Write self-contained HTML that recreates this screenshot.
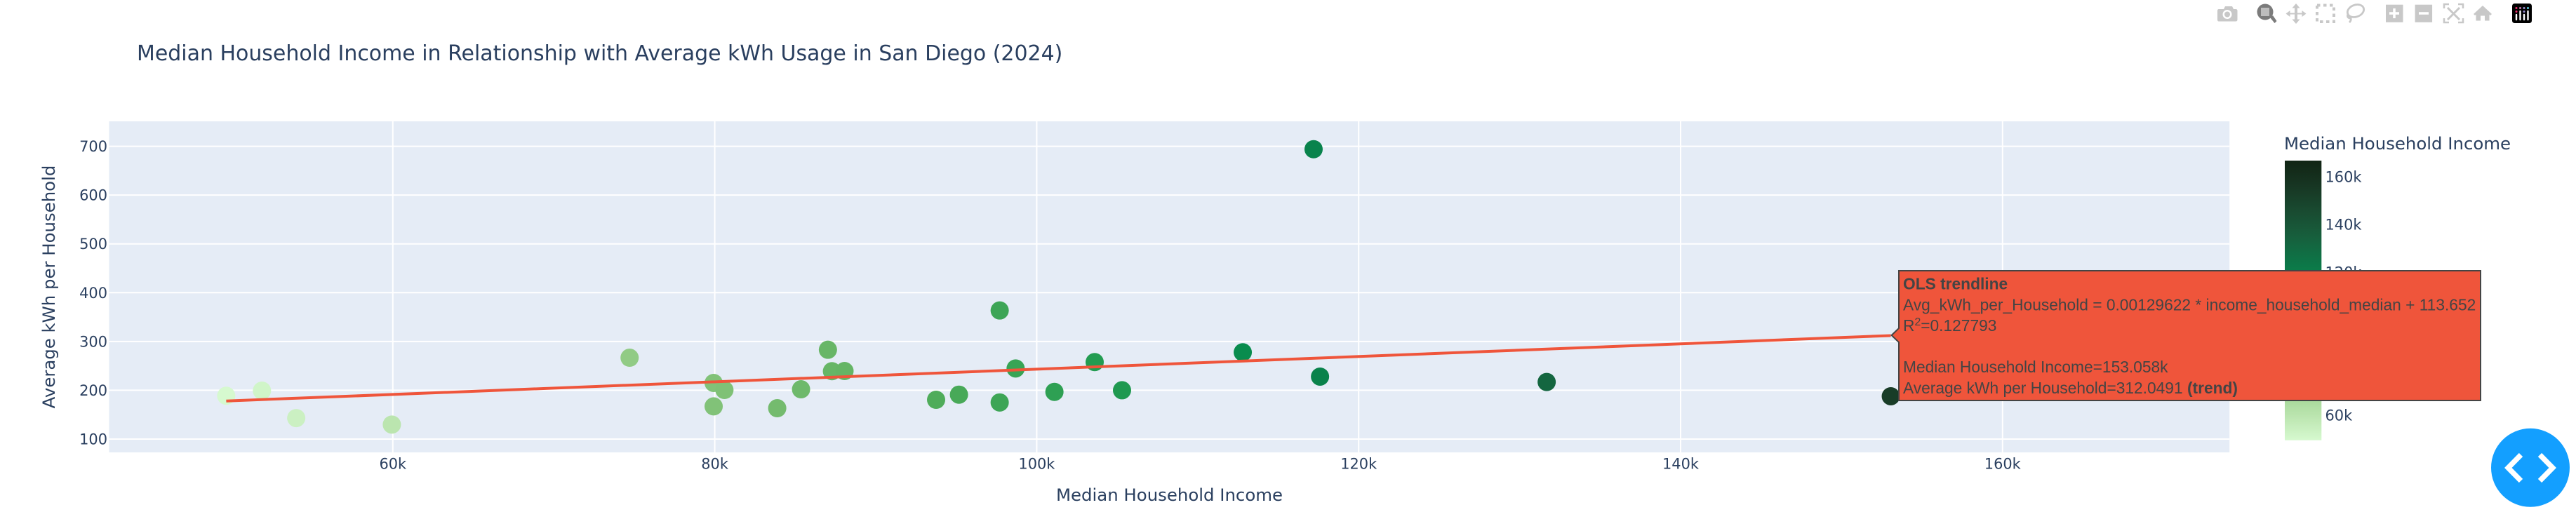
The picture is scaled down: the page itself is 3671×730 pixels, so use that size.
<!DOCTYPE html>
<html lang="en">
<head>
<meta charset="utf-8">
<title>Median Household Income in Relationship with Average kWh Usage in San Diego (2024)</title>
<style>
html,body{margin:0;padding:0;background:#fff;width:3671px;height:730px;overflow:hidden}
svg{display:block}
text{font-family:"DejaVu Sans","Liberation Sans",sans-serif;fill:#2a3f5f}
.tip text{font-family:"Liberation Sans",Arial,sans-serif;fill:#444;font-size:22.75px}
</style>
</head>
<body>
<svg id="chart" xmlns="http://www.w3.org/2000/svg" width="3671" height="730" viewBox="0 0 3671 730">
  <defs>
    <linearGradient id="cbGrad" x1="0" y1="1" x2="0" y2="0"></linearGradient>
  </defs>
  <rect x="155.4" y="173" width="3021.8" height="472" fill="#e5ecf6"/>
  <g id="grid"></g>
  <g id="points"></g>
  <g id="trend"></g>
  <g id="xticks"></g>
  <g id="yticks"></g>

  <text x="195" y="86" font-size="29.96">Median Household Income in Relationship with Average kWh Usage in San Diego (2024)</text>
  <text x="1666.500" y="714" font-size="24.4" text-anchor="middle">Median Household Income</text>
  <text transform="translate(78,409) rotate(-90)" font-size="24.4" text-anchor="middle">Average kWh per Household</text>

  <g>
    <text x="3255" y="213" font-size="24.4">Median Household Income</text>
    <rect x="3256" y="229" width="52.3" height="398.7" fill="url(#cbGrad)"/>
    <g id="cbticks"></g>
  </g>

  <g class="tip">
    <path d="M2695.6,478 L2706,468 V386 H3535 V571 H2706 V488 Z" fill="#ef553b" stroke="#444" stroke-width="2"/>
    <text x="2712" y="412.5" font-weight="bold">OLS trendline</text>
    <text x="2712" y="442.5">Avg_kWh_per_Household = 0.00129622 * income_household_median + 113.652</text>
    <text x="2712" y="472">R<tspan dy="-8" font-size="15.8">2</tspan><tspan dy="8">=0.127793</tspan></text>
    <text x="2712" y="531">Median Household Income=153.058k</text>
    <text x="2712" y="561">Average kWh per Household=312.0491 <tspan font-weight="bold">(trend)</tspan></text>
  </g>

  <g>
    <g fill="#c8c8c8">
      <path d="M3162,13 h7 l2,-4 h10 l2,4 h3 q2.500,0 2.500,2.500 v12.500 q0,2.500 -2.500,2.500 h-24 q-2,0 -2,-2.500 v-12.500 q0,-2.500 2,-2.500 z"/>
      <circle cx="3174" cy="20.500" r="6.500" fill="#fff"/>
      <circle cx="3174" cy="20.500" r="4" fill="#c8c8c8"/>
    </g>
    <g fill="#7b7b7b">
      <circle cx="3228" cy="17" r="11.500"/>
      <rect x="3222" y="11" width="12" height="12" fill="#bdbdbd" stroke="#fff" stroke-width="0"/>
      <path d="M3235,25 l4,-3 l5.500,8 l-3,3 z"/>
    </g>
    <g fill="#c8c8c8">
      <path d="M3272,5 l5.500,6.500 h-3.500 v7 h6.500 v-3.500 l6,4.500 l-6,4.500 v-3.500 h-6.500 v7 h3.500 l-5.500,6.500 l-5.500,-6.500 h3.500 v-7 h-6.500 v3.500 l-6,-4.500 l6,-4.500 v3.500 h6.500 v-7 h-3.500 z"/>
    </g>
    <rect x="3302" y="7.500" width="24" height="23.500" fill="none" stroke="#c8c8c8" stroke-width="4" stroke-dasharray="4.500 4.500"/>
    <g fill="none" stroke="#c8c8c8" stroke-width="2.800">
      <ellipse cx="3357" cy="15.500" rx="12" ry="8.500" transform="rotate(-20 3357 15.500)"/>
      <path d="M3346,20 q-2,6 4,6 q1,3 -2,6"/>
    </g>
    <g>
      <rect x="3400" y="6.700" width="24.500" height="25" fill="#c8c8c8"/>
      <path d="M3405,19 h14 M3412,12 v14" stroke="#fff" stroke-width="3.500"/>
    </g>
    <g>
      <rect x="3441.600" y="6.700" width="24.500" height="25" fill="#c8c8c8"/>
      <path d="M3447,19 h14" stroke="#fff" stroke-width="3.500"/>
    </g>
    <g fill="none" stroke="#c8c8c8" stroke-width="2.500">
      <path d="M3483,12 v-6 h7 M3503,6 h7 v6 M3510,26 v6 h-7 M3490,32 h-7 v-6"/>
      <path d="M3488,11 l17,17 M3505,11 l-17,17" stroke-width="3"/>
    </g>
    <path d="M3525,20 l13,-12 l13,12 l-2,2 l-1.500,-1.300 v8.800 h-6.500 v-7 h-6 v7 h-6.500 v-8.800 l-1.500,1.300 z" fill="#c8c8c8"/>
    <g>
      <rect x="3580" y="5" width="28" height="28" rx="3.500" fill="#000"/>
      <circle cx="3586" cy="11.500" r="1.500" fill="#ef2c6d"/>
      <circle cx="3591.500" cy="11.500" r="1.500" fill="#c77cb0"/>
      <circle cx="3597" cy="11.500" r="1.500" fill="#9a8fd0"/>
      <circle cx="3602.500" cy="11.500" r="1.500" fill="#5fd0e0"/>
      <circle cx="3586" cy="16.500" r="1.500" fill="#ef2c6d"/>
      <circle cx="3597" cy="16.500" r="1.500" fill="#9a8fd0"/>
      <path d="M3586,21 v7 M3591.500,16 v12 M3597,21 v7 M3602.500,16 v12" stroke="#fff" stroke-width="2.400" stroke-linecap="round"/>
    </g>
  </g>

  <g>
    <circle cx="3606" cy="666.800" r="56" fill="#139fff"/>
    <path d="M3592.500,648.500 L3574.300,667 L3592.500,685.500" fill="none" stroke="#fff" stroke-width="7.500" stroke-miterlimit="4"/>
    <path d="M3619.500,648.500 L3637.700,667 L3619.500,685.500" fill="none" stroke="#fff" stroke-width="7.500" stroke-miterlimit="4"/>
  </g>
</svg>
<script>
// ---- chart data ----
const incomeValues = [49650,51870,54000,59940,74710,79930,80600,79930,83880,85360,87030,87280,88060,93750,95170,97700,97700,98690,101100,103600,105300,112800,117200,117600,131680,153058];
const kwhValues = [188.7,199.2,143,129.7,266.7,215,200.6,167,163.2,202,283,239,239.4,180.5,191,363.5,175,244.7,196.7,257.7,200,277.8,694,228,216.9,187.7];
const trendIncome = [49650,153058];
const trendKwh = [178,312.0491];
const xTickValues = [60000,80000,100000,120000,140000,160000];
const xTickLabels = ['60k','80k','100k','120k','140k','160k'];
const yTickValues = [100,200,300,400,500,600,700];
const yTickLabels = ['100','200','300','400','500','600','700'];
const colorTickValues = [60000,80000,100000,120000,140000,160000];
const colorTickLabels = ['60k','80k','100k','120k','140k','160k'];
const colorStops = [[214,249,207],[186,228,174],[156,209,143],[124,191,115],[85,174,91],[37,157,81],[7,138,78],[13,117,71],[23,95,61],[25,75,49],[23,54,35],[17,36,20]];
const colorMin = 49650;
const colorMax = 167000;

// ---- axis functions ----
const NS = 'http://www.w3.org/2000/svg';
function xScale(v){ return 559.8 + (v - 60000) * 0.02294; }
function yScale(v){ return 626 - (v - 100) * 0.6957; }
function colorBarScale(v){ return 592 - (v - 60000) * 0.0034; }
function colorFor(v){
  const t = Math.max(0, Math.min(1, (v - colorMin) / (colorMax - colorMin))) * (colorStops.length - 1);
  const i = Math.min(colorStops.length - 2, Math.floor(t));
  const f = t - i;
  const c = colorStops[i].map(function(a, k){ return Math.round(a + (colorStops[i + 1][k] - a) * f); });
  return 'rgb(' + c.join(',') + ')';
}
function make(tag, parent){
  const el = document.createElementNS(NS, tag);
  parent.appendChild(el);
  return el;
}

// ---- gridlines ----
const grid = document.getElementById('grid');
xTickValues.forEach(function(v){
  const l = make('line', grid);
  
  
  l.setAttribute('x1', xScale(v)); l.setAttribute('x2', xScale(v));
  l.setAttribute('y1', 173); l.setAttribute('y2', 645);
  l.setAttribute('stroke', '#fff'); l.setAttribute('stroke-width', 2);
});
yTickValues.forEach(function(v){
  const l = make('line', grid);
  
  
  l.setAttribute('x1', 155.4); l.setAttribute('x2', 3177.2);
  l.setAttribute('y1', yScale(v)); l.setAttribute('y2', yScale(v));
  l.setAttribute('stroke', '#fff'); l.setAttribute('stroke-width', 2);
});

// ---- tick labels ----
const xt = document.getElementById('xticks');
xTickValues.forEach(function(v, i){
  const t = make('text', xt);
  
  
  t.setAttribute('x', xScale(v)); t.setAttribute('y', 668.5);
  t.setAttribute('font-size', 20.9); t.setAttribute('text-anchor', 'middle');
  t.textContent = xTickLabels[i];
});
const yt = document.getElementById('yticks');
yTickValues.forEach(function(v, i){
  const t = make('text', yt);
  
  
  t.setAttribute('x', 153); t.setAttribute('y', yScale(v) + 7.5);
  t.setAttribute('font-size', 20.9); t.setAttribute('text-anchor', 'end');
  t.textContent = yTickLabels[i];
});
const ct = document.getElementById('cbticks');
colorTickValues.forEach(function(v, i){
  const t = make('text', ct);
  
  
  t.setAttribute('x', 3313.5); t.setAttribute('y', colorBarScale(v) + 7.5);
  t.setAttribute('font-size', 20.9);
  t.textContent = colorTickLabels[i];
});

// ---- colorbar gradient ----
const grad = document.getElementById('cbGrad');
colorStops.forEach(function(c, i){
  const s = make('stop', grad);
  s.setAttribute('offset', i / (colorStops.length - 1));
  s.setAttribute('stop-color', 'rgb(' + c.join(',') + ')');
});

// ---- scatter points ----
const pts = document.getElementById('points');
incomeValues.forEach(function(v, i){
  const c = make('circle', pts);
  
  
  c.setAttribute('cx', xScale(v));
  c.setAttribute('cy', yScale(kwhValues[i]));
  c.setAttribute('r', 13);
  c.setAttribute('fill', colorFor(v));
});

// ---- trendline ----
const tr = document.getElementById('trend');
const trendPath = make('polyline', tr);


trendPath.setAttribute('points', trendIncome.map(function(v, i){ return xScale(v) + ',' + yScale(trendKwh[i]); }).join(' '));
trendPath.setAttribute('fill', 'none');
trendPath.setAttribute('stroke', '#ef553b');
trendPath.setAttribute('stroke-width', 4);
</script>
</body>
</html>
